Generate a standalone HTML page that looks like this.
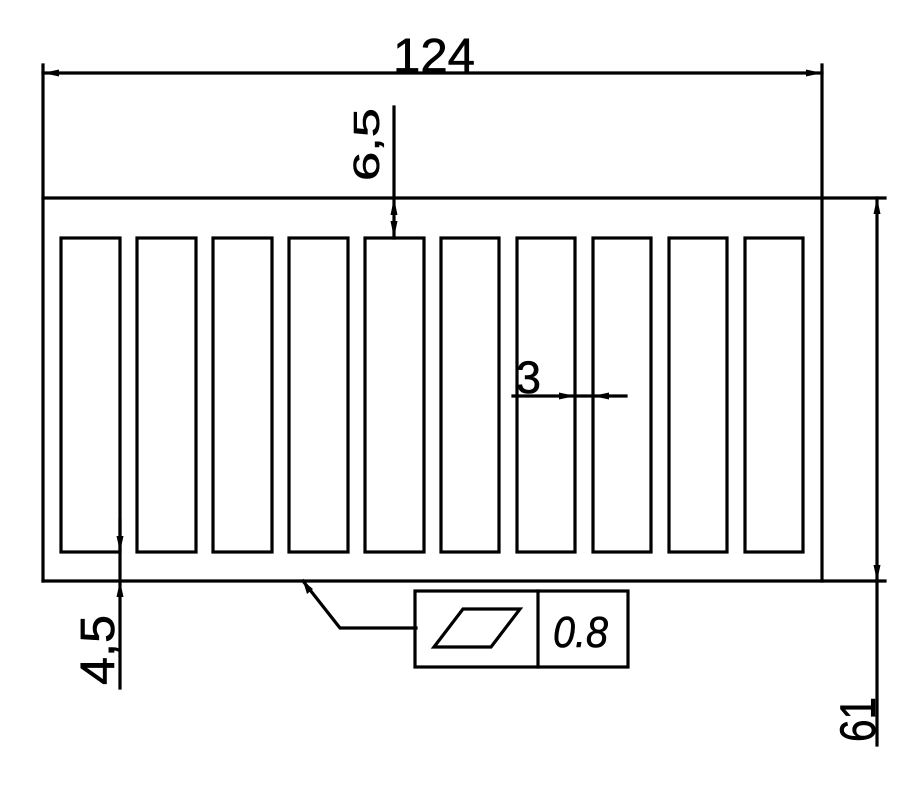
<!DOCTYPE html>
<html><head><meta charset="utf-8"><style>
html,body{margin:0;padding:0;background:#fff;}
svg{display:block;}
text{font-family:"Liberation Sans",sans-serif;fill:#000;stroke:#000;stroke-width:0.6;}
</style></head><body>
<svg width="901" height="789" viewBox="0 0 901 789" xmlns="http://www.w3.org/2000/svg">
<g stroke="#000" stroke-width="3.2" fill="none" stroke-linecap="square">
<line x1="43" y1="65" x2="43" y2="581"/>
<line x1="822" y1="65" x2="822" y2="581"/>
<line x1="43" y1="198" x2="885" y2="198"/>
<line x1="43" y1="581" x2="885" y2="581"/>
<line x1="43" y1="73" x2="822" y2="73"/>
<rect x="61" y="238" width="59" height="314"/>
<rect x="137" y="238" width="59" height="314"/>
<rect x="213" y="238" width="59" height="314"/>
<rect x="289" y="238" width="59" height="314"/>
<rect x="365" y="238" width="59" height="314"/>
<rect x="441" y="238" width="58" height="314"/>
<rect x="517" y="238" width="58" height="314"/>
<rect x="593" y="238" width="58" height="314"/>
<rect x="669" y="238" width="58" height="314"/>
<rect x="745" y="238" width="58" height="314"/>
<line x1="394" y1="107" x2="394" y2="238"/>
<line x1="120" y1="520" x2="120" y2="688"/>
<line x1="877" y1="198" x2="877" y2="745"/>
<line x1="513" y1="396" x2="626" y2="396"/>
<polyline points="303,581 340,628 416,628"/>
<rect x="415" y="591" width="213" height="76"/>
<line x1="538" y1="591" x2="538" y2="667"/>
<polygon points="434,647 463,609 520,609 491,647" stroke-linejoin="miter"/>
</g>
<g fill="#000" stroke="none">
<polygon points="43,73 59,69.5 59,76.5"/>
<polygon points="822,73 806,69.5 806,76.5"/>
<polygon points="394,198 390.5,215 397.5,215"/>
<polygon points="394,238 390.5,221 397.5,221"/>
<polygon points="120,552 116.5,536 123.5,536"/>
<polygon points="120,581 116.5,597 123.5,597"/>
<polygon points="877,198 873.5,214 880.5,214"/>
<polygon points="877,581 873.5,565 880.5,565"/>
<polygon points="575,396 559,392.5 559,399.5"/>
<polygon points="593,396 609,392.5 609,399.5"/>
<polygon points="303,581 307,594 313,589"/>
</g>
<text x="393" y="72" font-size="48" textLength="82" lengthAdjust="spacingAndGlyphs">124</text>
<text transform="translate(379,181) rotate(-90)" font-size="36" textLength="73" lengthAdjust="spacingAndGlyphs">6,5</text>
<text transform="translate(114,685) rotate(-90)" font-size="48" textLength="70" lengthAdjust="spacingAndGlyphs">4,5</text>
<text transform="translate(875,742) rotate(-90)" font-size="50" textLength="45" lengthAdjust="spacingAndGlyphs">61</text>
<text x="516" y="393" font-size="45" textLength="25" lengthAdjust="spacingAndGlyphs">3</text>
<text x="553" y="647" font-size="44" font-style="italic" textLength="55" lengthAdjust="spacingAndGlyphs">0.8</text>
</svg>
</body></html>
